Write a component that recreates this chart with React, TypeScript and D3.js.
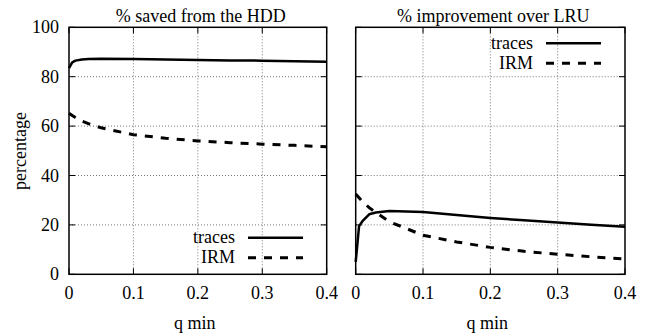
import React from "react";
import * as d3 from "d3";

const qValues = [0, 0.005, 0.01, 0.02, 0.03, 0.05, 0.1, 0.15, 0.2, 0.25, 0.3, 0.35, 0.4];
const savedTraces = [83.5, 85.8, 86.5, 87.0, 87.2, 87.3, 87.2, 87.0, 86.8, 86.6, 86.5, 86.3, 86.1];
const savedIRM = [65.2, 64.3, 63.5, 62.0, 61.0, 59.3, 56.5, 55.1, 54.0, 53.3, 52.7, 52.2, 51.6];
const improvTraces = [5, 19.5, 21.5, 24.3, 25.0, 25.6, 25.2, 24.0, 22.8, 21.9, 21.0, 20.1, 19.3];
const improvIRM = [32.5, 31.0, 29.5, 27.0, 25.0, 21.3, 15.8, 13.1, 10.9, 9.3, 8.1, 7.1, 6.2];
const xTicks = [0, 0.1, 0.2, 0.3, 0.4];
const yTicks = [0, 20, 40, 60, 80, 100];
const seriesNames = ["traces", "IRM"];
const panelTitles = ["% saved from the HDD", "% improvement over LRU"];

const FS = 18;
const textStyle: React.CSSProperties = {
  fontFamily: '"Liberation Serif", "Times New Roman", Times, Tinos, "Nimbus Roman", "DejaVu Serif", serif',
  fontSize: FS,
};

type PanelProps = {
  x0: number; x1: number; title: string; traces: number[]; irm: number[];
  showYLabels: boolean; legend: { endX: number; y: number };
};

function Panel({ x0, x1, title, traces, irm, showYLabels, legend }: PanelProps) {
  const x = d3.scaleLinear().domain([0, 0.4]).range([x0, x1]);
  const y = d3.scaleLinear().domain([0, 100]).range([274.3, 27.3]);
  const line = d3.line<number>().x((_, i) => x(qValues[i])).y((d) => y(d));
  const tl = 6;
  return (
    <g>
      {xTicks.slice(1, -1).map((t) => (
        <line key={"gx" + t} x1={x(t)} x2={x(t)} y1={y(0)} y2={y(100)} stroke="#777" strokeWidth={1} strokeDasharray="1,2" />
      ))}
      {yTicks.slice(1, -1).map((t) => (
        <line key={"gy" + t} x1={x0} x2={x1} y1={y(t)} y2={y(t)} stroke="#777" strokeWidth={1} strokeDasharray="1,2" />
      ))}
      {xTicks.map((t) => (
        <g key={"tx" + t}>
          <line x1={x(t)} x2={x(t)} y1={y(0)} y2={y(0) - tl} stroke="#000" strokeWidth={1} />
          <line x1={x(t)} x2={x(t)} y1={y(100)} y2={y(100) + tl} stroke="#000" strokeWidth={1} />
          <text x={x(t)} y={298.5} textAnchor="middle" style={textStyle}>{String(t)}</text>
        </g>
      ))}
      {yTicks.map((t) => (
        <g key={"ty" + t}>
          <line x1={x0} x2={x0 + tl} y1={y(t)} y2={y(t)} stroke="#000" strokeWidth={1} />
          <line x1={x1} x2={x1 - tl} y1={y(t)} y2={y(t)} stroke="#000" strokeWidth={1} />
          {showYLabels && (
            <text x={x0 - 10} y={y(t) + 6} textAnchor="end" style={textStyle}>{String(t)}</text>
          )}
        </g>
      ))}
      <rect x={x0} y={y(100)} width={x1 - x0} height={y(0) - y(100)} fill="none" stroke="#000" strokeWidth={1.5} />
      <path d={line(traces) || ""} fill="none" stroke="#000" strokeWidth={2.5} strokeLinejoin="round" />
      <path d={line(irm) || ""} fill="none" stroke="#000" strokeWidth={3} strokeDasharray="8,8" />
      <text x={legend.endX} y={legend.y + 5.6} textAnchor="end" style={textStyle}>{seriesNames[0]}</text>
      <line x1={legend.endX + 13} x2={legend.endX + 68} y1={legend.y} y2={legend.y} stroke="#000" strokeWidth={2.5} />
      <text x={legend.endX} y={legend.y + 25.6} textAnchor="end" style={textStyle}>{seriesNames[1]}</text>
      <line x1={legend.endX + 13} x2={legend.endX + 68} y1={legend.y + 20} y2={legend.y + 20} stroke="#000" strokeWidth={3} strokeDasharray="8,8" />
      <text x={(x0 + x1) / 2 + 3} y={21.7} textAnchor="middle" style={textStyle}>{title}</text>
      <text x={(x0 + x1) / 2 - 3} y={329} textAnchor="middle" style={textStyle}>q min</text>
    </g>
  );
}

export default function App() {
  return (
    <svg width={662} height={335} style={{ position: "absolute", left: 0, top: 0, background: "#fff" }}>
      <rect width={662} height={335} fill="#fff" />
      <text transform="translate(26,151) rotate(-90)" textAnchor="middle" style={textStyle}>percentage</text>
      <Panel x0={69} x1={326.7} title={panelTitles[0]} traces={savedTraces} irm={savedIRM} showYLabels={true} legend={{ endX: 235, y: 237.7 }} />
      <Panel x0={355.7} x1={625} title={panelTitles[1]} traces={improvTraces} irm={improvIRM} showYLabels={false} legend={{ endX: 533, y: 43.3 }} />
    </svg>
  );
}
